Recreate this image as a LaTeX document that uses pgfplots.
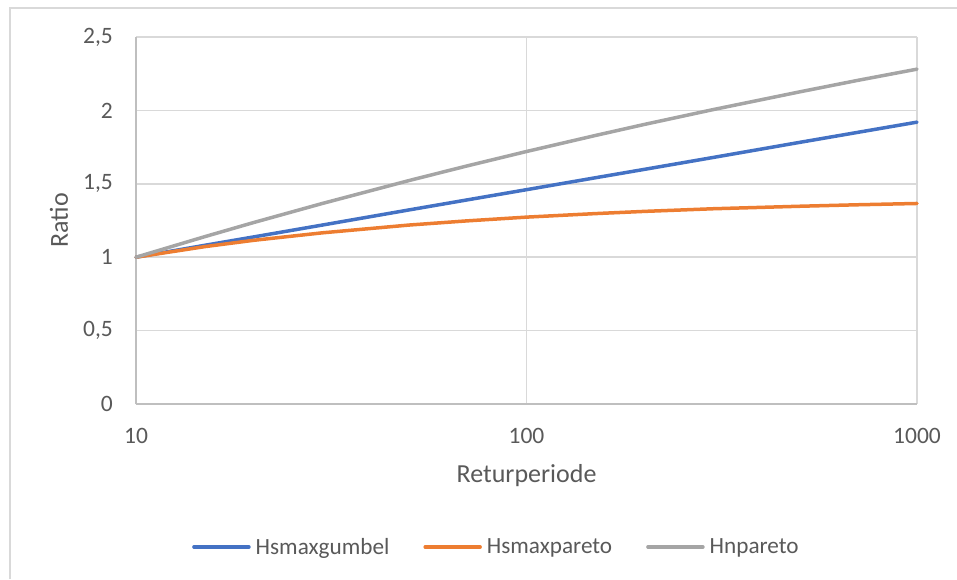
\documentclass[border=0pt]{standalone}
\usepackage{fontspec}
\setmainfont{Carlito}
\usepackage{pgfplots}
\usepackage{pgfplotstable}
\pgfplotsset{compat=1.18}
\definecolor{cblue}{HTML}{4472C4}
\definecolor{corange}{HTML}{ED7D31}
\definecolor{cgray}{HTML}{A5A5A5}
\definecolor{gridc}{HTML}{D9D9D9}
\definecolor{axisc}{HTML}{BFBFBF}
\definecolor{txt}{HTML}{595959}

\pgfplotstableread{
T     gumbel  gpd    hn
10    1.000   1.000  1.000
15    1.081   1.072  1.140
20    1.138   1.115  1.236
30    1.219   1.166  1.366
50    1.322   1.219  1.522
70    1.389   1.247  1.620
100   1.460   1.273  1.720
150   1.541   1.297  1.829
200   1.598   1.312  1.904
300   1.679   1.330  2.005
500   1.782   1.347  2.126
700   1.849   1.357  2.203
1000  1.920   1.366  2.281
}\data

\begin{document}
\begin{tikzpicture}
\useasboundingbox (0pt,0pt) rectangle (957pt,579pt);
\draw[gridc, line width=1.3pt] (10pt,0pt) -- (10pt,571pt) -- (957pt,571pt);
\begin{axis}[
  at={(136pt,175pt)}, anchor=south west,
  scale only axis, width=781pt, height=367pt,
  xmode=log, xmin=10, xmax=1000, ymin=0, ymax=2.5,
  xtick={10,100,1000}, ytick={0,0.5,1,1.5,2,2.5},
  log ticks with fixed point,
  /pgf/number format/assume math mode=true,
  /pgf/number format/1000 sep={},
  major tick length=0pt, minor tick length=0pt, tick style={draw=none},
  grid=major, grid style={gridc, line width=1.5pt},
  axis x line*=bottom, axis y line*=left,
  axis line style={-, axisc, line width=1.5pt},
  tick label style={font=\fontsize{23.5}{28}\selectfont, text=txt, inner sep=0pt},
  x tick label style={anchor=base, yshift=-39pt},
  y tick label style={anchor=east, xshift=-23pt,
    /pgf/number format/fixed, /pgf/number format/use comma, /pgf/number format/1000 sep={}},
  label style={font=\fontsize{26}{31}\selectfont, text=txt},
  xlabel={Returperiode},
  ylabel={Ratio},
  xlabel style={at={(axis description cs:0.5,-0.2144)}, anchor=base, inner sep=0pt},
  ylabel style={at={(axis description cs:-0.0986,0.5)}, anchor=center, inner sep=0pt},
  legend columns=3,
  legend style={at={(axis description cs:0.0717,-0.3896)}, anchor=west,
    draw=none, fill=none, inner sep=0pt, text=txt,
    font=\fontsize{23.2}{28}\selectfont,
    nodes={inner sep=0pt},
    /tikz/every odd column/.append style={column sep=5pt},
    /tikz/every even column/.append style={column sep=34pt}},
  legend image code/.code={\draw[#1, line width=3.5pt, line cap=round] (0pt,0pt) -- (55pt,0pt);},
  clip=false,
]
\addplot[cblue, line width=3.5pt, line cap=round, line join=round] table[x=T, y=gumbel] {\data};
\addlegendentry{Hsmaxgumbel}
\addplot[corange, line width=3.5pt, line cap=round, line join=round] table[x=T, y=gpd] {\data};
\addlegendentry{Hsmaxpareto}
\addplot[cgray, line width=3.5pt, line cap=round, line join=round] table[x=T, y=hn] {\data};
\addlegendentry{Hnpareto}
\end{axis}
\end{tikzpicture}
\end{document}
